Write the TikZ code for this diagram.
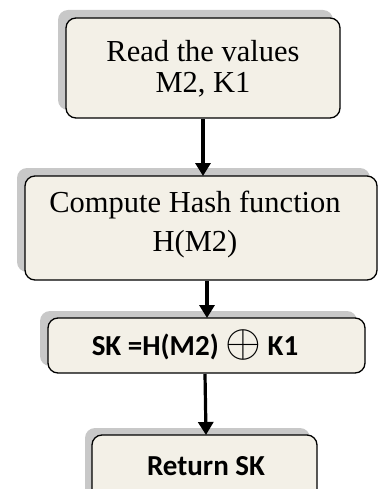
\documentclass[tikz,border=0pt]{standalone}
\usepackage{graphicx}
\usepackage{fontspec}
\setmainfont{Liberation Serif}
\newfontfamily\calibri{Carlito}
\usetikzlibrary{arrows.meta}
\definecolor{boxfill}{HTML}{F3F0E7}
\definecolor{shadowgray}{HTML}{C8C8C8}
\newcommand{\bigxor}{\raisebox{-1pt}{\scalebox{1.85}{$\oplus$}}}
\tikzset{
  flowbox/.style={draw=black, line width=1.3pt, fill=boxfill, rounded corners=10pt},
  shadowbox/.style={fill=shadowgray, rounded corners=10pt},
  flowarrow/.style={line width=3.2pt, -{Triangle[width=15pt,length=13pt]}},
  sertexta/.style={font=\fontsize{30.5}{31}\selectfont, align=center, inner sep=0pt},
  sertextb/.style={font=\fontsize{30.5}{39}\selectfont, align=center, inner sep=0pt},
  sanstext/.style={font=\calibri\bfseries\fontsize{29}{32}\selectfont, align=center, inner sep=0pt}
}
\begin{document}
\begin{tikzpicture}[x=1pt,y=-1pt]
\useasboundingbox (0,0) rectangle (377,489);
% shadows
\fill[shadowbox] (58,10) rectangle (333,110);
\fill[shadowbox] (17,168) rectangle (370,272);
\fill[shadowbox] (40,311) rectangle (357,366);
\fill[shadowbox] (85,428) rectangle (310,500);
% boxes
\draw[flowbox] (66,18) rectangle (340,118);
\draw[flowbox] (25,176) rectangle (377,280);
\draw[flowbox] (48,318) rectangle (365,373);
\draw[flowbox] (92,435) rectangle (317,505);
\node[sertexta] (n1) at (203,69) {Read the values\\M2, K1};
\node[sertextb] (n2) at (195,225) {Compute Hash function\\H(M2)};
\node[sanstext, anchor=base] (n3) at (195,355) {SK =H(M2) \bigxor{} K1};
\node[sanstext, anchor=base] (n4) at (206,475) {Return SK};
\coordinate (a1s) at (203,119);
\coordinate (a1e) at (203,176);
\coordinate (a2s) at (207,281);
\coordinate (a2e) at (207,318);
\coordinate (a3s) at (205,374);
\coordinate (a3e) at (206,435);
\draw[flowarrow] (a1s) -- (a1e);
\draw[flowarrow] (a2s) -- (a2e);
\draw[flowarrow] (a3s) -- (a3e);
\end{tikzpicture}
\end{document}
